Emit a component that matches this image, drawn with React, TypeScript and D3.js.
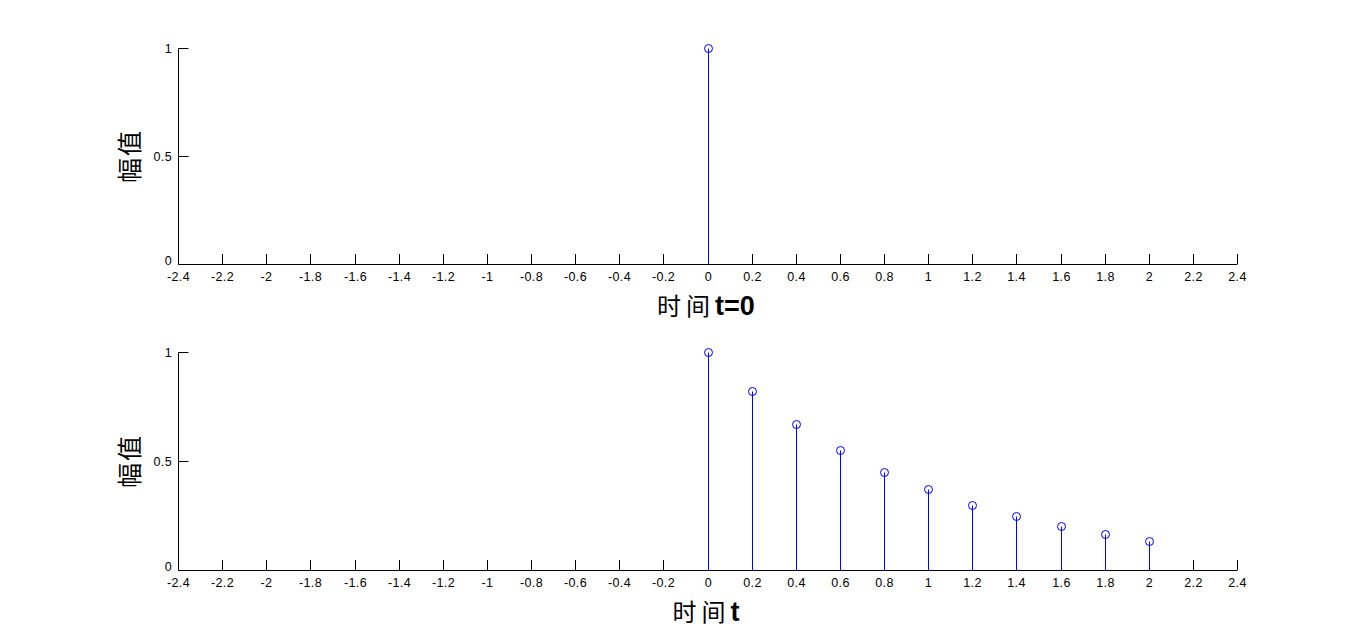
import React, { useEffect, useRef } from "react";
import * as d3 from "d3";

// time ticks shared by both panels
const xTicks = [-2.4, -2.2, -2, -1.8, -1.6, -1.4, -1.2, -1, -0.8, -0.6, -0.4, -0.2, 0, 0.2, 0.4, 0.6, 0.8, 1, 1.2, 1.4, 1.6, 1.8, 2, 2.2, 2.4];
const yTicks = [0, 0.5, 1];

// top panel: impulse at t=0
const impulseT = [0];
const impulseV = [1];

// bottom panel: decaying samples
const decayT = [0, 0.2, 0.4, 0.6, 0.8, 1, 1.2, 1.4, 1.6, 1.8, 2];
const decayV = [1, 0.82, 0.67, 0.55, 0.45, 0.37, 0.3, 0.25, 0.2, 0.165, 0.135];

const width = 1366;
const height = 642;

const panels = [
  { top: 48, bottom: 264, xlabel: "t=0", ts: impulseT, vs: impulseV },
  { top: 352, bottom: 570, xlabel: "t", ts: decayT, vs: decayV },
];

const App = () => {
  const ref = useRef<SVGSVGElement>(null);

  useEffect(() => {
    document.body.style.margin = "0";
    const svg = d3.select(ref.current);
    svg.selectAll("*").remove();

    const x = d3.scaleLinear().domain([-2.4, 2.4]).range([178, 1237]).interpolate(d3.interpolateRound);

    panels.forEach((p) => {
      const y = d3.scaleLinear().domain([0, 1]).range([p.bottom, p.top]).interpolate(d3.interpolateRound);
      const g = svg.append("g");

      // x axis, ticks pointing inward
      const xa = g
        .append("g")
        .attr("transform", `translate(0,${p.bottom})`)
        .call(d3.axisBottom(x).tickValues(xTicks).tickSize(-10).tickPadding(9).tickFormat((d) => `${d}`));
      xa.select(".domain").attr("d", `M${x(-2.4) + 0.5},0.5H${x(2.4) + 0.5}`);

      const ya = g
        .append("g")
        .attr("transform", `translate(178,0)`)
        .call(d3.axisLeft(y).tickValues(yTicks).tickSize(-10).tickPadding(6).tickFormat((d) => `${d}`));
      ya.select(".domain").attr("d", `M0.5,${y(0) + 0.5}V${y(1) + 0.5}`);
      ya.selectAll(".tick line").attr("transform", "translate(0.5,0)");

      [xa, ya].forEach((a) => {
        a.selectAll("text")
          .attr("font-family", "'Liberation Sans', Arial, sans-serif")
          .attr("font-size", 12.5)
          .attr("letter-spacing", 0.4)
          .attr("fill", "#000");
        a.selectAll("line").attr("stroke", "#000");
        a.select(".domain").attr("stroke", "#000");
      });
      xa.selectAll("text").attr("dy", "0.66em");
      ya.selectAll(".tick text").filter((d) => d === 0).attr("dy", "0.05em");

      const pts = p.ts.map((t, i) => ({ t, v: p.vs[i] }));

      g.selectAll(".stem")
        .data(pts)
        .enter()
        .append("line")
        .attr("x1", (d) => x(d.t) + 0.5)
        .attr("x2", (d) => x(d.t) + 0.5)
        .attr("y1", y(0) + 0.5)
        .attr("y2", (d) => y(d.v) + 0.5)
        .attr("stroke", "#0000ff")
        .attr("stroke-width", 1);

      g.selectAll(".mark")
        .data(pts)
        .enter()
        .append("circle")
        .attr("cx", (d) => x(d.t) + 0.5)
        .attr("cy", (d) => y(d.v) + 0.5)
        .attr("r", 4)
        .attr("fill", "none")
        .attr("stroke", "#0000ff")
        .attr("stroke-width", 1);

      // x label
      const xl = g
        .append("text")
        .attr("x", x(0) - 2)
        .attr("y", p.bottom + 51)
        .attr("text-anchor", "middle")
        .attr("fill", "#000");
      xl.append("tspan")
        .attr("font-family", "'Noto Sans CJK SC', sans-serif")
        .attr("font-size", 24)
        .attr("letter-spacing", 5)
        .text("时间");
      xl.append("tspan")
        .attr("font-family", "'Liberation Sans', Arial, sans-serif")
        .attr("font-size", 27)
        .attr("font-weight", "bold")
        .text(p.xlabel);

      // y label
      g.append("text")
        .attr("transform", `translate(139,${(p.top + p.bottom) / 2}) rotate(-90)`)
        .attr("text-anchor", "middle")
        .attr("font-family", "'Noto Sans CJK SC', sans-serif")
        .attr("font-size", 25)
        .attr("letter-spacing", 2)
        .attr("fill", "#000")
        .text("幅值");
    });
  }, []);

  return <svg ref={ref} width={width} height={height} style={{ display: "block", background: "#fff" }} />;
};

export default App;
